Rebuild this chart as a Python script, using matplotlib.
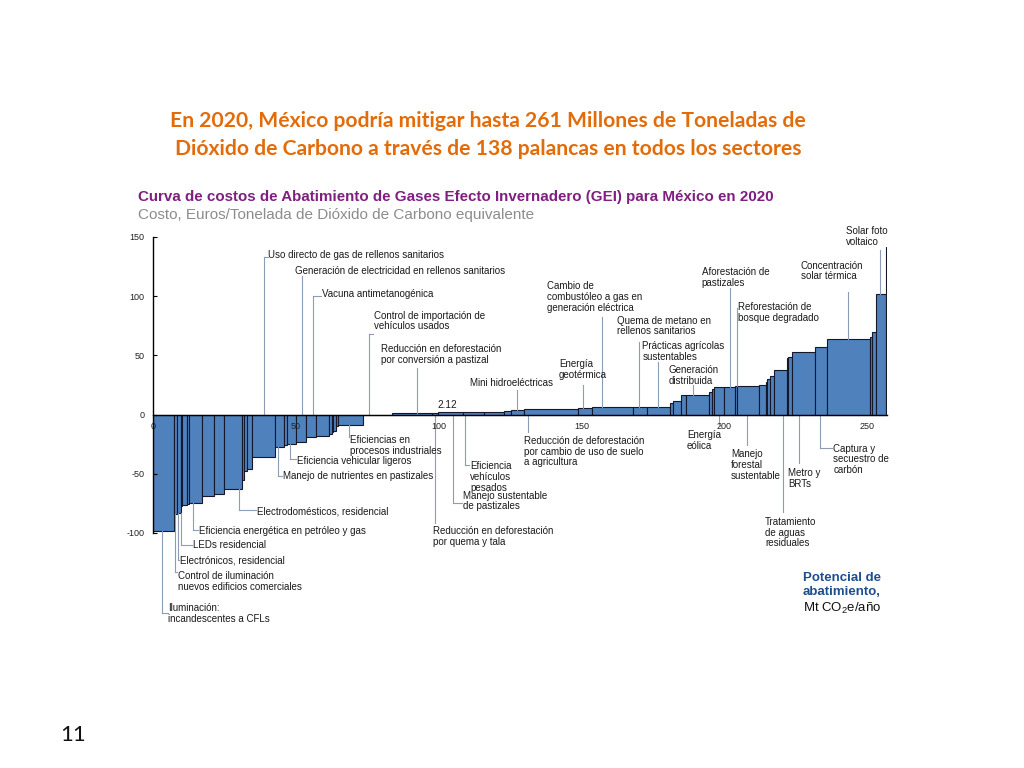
import matplotlib
matplotlib.use("Agg")
import matplotlib.pyplot as plt
import numpy as np

plt.rcParams['axes.unicode_minus'] = False

# abatement potential (Mt CO2e/año) and cost (EUR/tCO2e) of each lever, left to right
widths = [7.35, 1.15, 1.2, 0.6, 1.5, 0.8, 4.45, 4.45, 3.25, 6.3, 0.85, 0.9, 1.75, 8.15,
          3.3, 0.8, 3.15, 3.65, 3.5, 4.6, 0.9, 0.5, 1.0, 0.8, 8.7,
          10.0,
          14.0, 2.3, 8.5, 7.5, 7.0, 2.45, 4.65, 18.9, 4.7, 14.6, 4.9, 7.9, 1.2, 2.6,
          1.8, 8.2, 0.8, 0.8, 3.5, 3.9, 0.8, 7.6, 2.4, 0.5, 0.9, 1.5, 4.4, 0.5,
          1.4, 8.0, 4.3, 15.0, 0.8, 1.1, 3.5, 0.5]
costs = [-98, -84, -83, -77, -76, -75.5, -75, -69, -67, -63, -55, -48, -46, -36,
         -27, -26, -25, -23.5, -19, -18, -16, -15, -14, -10, -9,
         0,
         1.2, 1.6, 2.12, 2.3, 2.6, 3.0, 4.3, 4.7, 5.8, 6.6, 6.7, 6.8, 9.5, 11.7,
         16.5, 16.5, 19.4, 21.4, 23.6, 23.6, 24.2, 24.2, 25, 27.8, 30.1, 32.9, 37.7, 47.5,
         48.9, 53.1, 57.3, 63.6, 65.8, 70.0, 101.6, 141.8]

# labels: text, leader x, leader end y, text left x, text centre y (data units)
labels = [
    ("Uso directo de gas de rellenos sanitarios", 38.9, 133.4, 40.4, 134.8),
    ("Generación de electricidad en rellenos sanitarios", 52.1, 117.3, 49.7, 121.3),
    ("Vacuna antimetanogénica", 55.9, 100.2, 59.1, 101.9),
    ("Control de importación de\nvehículos usados", 75.6, 67.8, 77.4, 79.1),
    ("Reducción en deforestación\npor conversión a pastizal", 92.3, 39.1, 79.7, 51.0),
    ("Mini hidroeléctricas", 127.6, 20.8, 111.0, 26.4),
    ("Cambio de\ncombustóleo a gas en\ngeneración eléctrica", 157.1, 82.7, 138.1, 99.3),
    ("Energía\ngeotérmica", 150.7, 25.0, 142.2, 38.3),
    ("Quema de metano en\nrellenos sanitarios", 170.2, 61.6, 162.4, 74.9),
    ("Prácticas agrícolas\nsustentables", 176.9, 44.7, 171.3, 53.3),
    ("Generación\ndistribuida", 189.2, 25.0, 180.4, 32.7),
    ("Aforestación de\npastizales", 202.0, 106.9, 192.1, 116.0),
    ("Reforestación de\nbosque degradado", 204.4, 90.0, 204.9, 86.3),
    ("Concentración\nsolar térmica", 243.5, 103.8, 226.8, 121.3),
    ("Solar foto\nvoltaico", 254.6, 139.0, 242.5, 150.4),
    ("Eficiencias en\nprocesos industriales", 68.7, -18.7, 69.0, -26.4),
    ("Eficiencia vehicular ligeros", 48.0, -37.5, 50.3, -38.9),
    ("Manejo de nutrientes en pastizales", 43.9, -51.9, 45.4, -51.9),
    ("Electrodomésticos, residencial", 30.2, -80.6, 36.3, -82.0),
    ("Eficiencia energética en petróleo y gas", 14.1, -97.5, 16.2, -98.0),
    ("LEDs residencial", 9.7, -110.0, 14.1, -110.0),
    ("Electrónicos, residencial", 8.65, -122.8, 9.45, -123.4),
    ("Control de iluminación\nnuevos edificios comerciales", 7.8, -132.7, 8.65, -141.1),
    ("Iluminación:\nincandescentes a CFLs", 3.3, -167.3, 5.4, -167.9),
    ("Eficiencia\nvehículos\npesados", 109.2, -42.4, 111.0, -52.6),
    ("Manejo sustentable\nde pastizales", 104.9, -74.6, 108.4, -73.0),
    ("Reducción en deforestación\npor quema y tala", 98.7, -91.6, 98.1, -102.9),
    ("Reducción de deforestación\npor cambio de uso de suelo\na agricultura", 131.4, -14.4, 129.9, -31.3),
    ("Energía\neólica", 198.3, -8.8, 186.9, -21.9),
    ("Manejo\nforestal\nsustentable", 208.1, -25.7, 202.3, -42.6),
    ("Tratamiento\nde aguas\nresiduales", 220.5, -82.0, 214.3, -99.7),
    ("Metro y\nBRTs", 226.3, -41.1, 222.4, -53.7),
    ("Captura y\nsecuestro de\ncarbón", 233.5, -28.0, 238.2, -37.8),
]

yticks = [-100, -50, 0, 50, 100, 150]
xticks = [0, 50, 100, 150, 200, 250]

widths = np.array(widths)
costs = np.array(costs)
lefts = np.concatenate([[0], np.cumsum(widths)[:-1]])

def cost_at(x):
    i = np.searchsorted(lefts + widths, x)
    return costs[min(i, len(costs) - 1)]

fig = plt.figure(figsize=(10.24, 7.68), dpi=100)
ax = fig.add_axes([153/1024, 235/768, 257*2.856/1024, 296/768])

ax.bar(lefts, costs, width=widths, align='edge', color='#4F81BD',
       edgecolor='#14182a', linewidth=0.8)
ax.set_xlim(0, 257)
ax.set_ylim(-100, 150)

for s in ['top', 'right']:
    ax.spines[s].set_visible(False)
ax.spines['bottom'].set_position(('data', 0))
ax.spines['bottom'].set_linewidth(1.0)
ax.spines['left'].set_linewidth(1.0)
ax.set_yticks(yticks)
ax.set_xticks(xticks)
ax.tick_params(axis='y', direction='in', length=3, pad=6, labelsize=6.5)
ax.tick_params(axis='x', length=0, pad=5, labelsize=6.5)
for t in ax.get_xticklabels() + ax.get_yticklabels():
    t.set_family('Liberation Sans')
    t.set_color('#222222')

lead = '#8c9db5'
for txt, xl, ye, xt, yt in labels:
    c = cost_at(xl)
    ys = max(c, 0) if yt > 0 else min(c, 0)
    ax.plot([xl, xl], [ys, ye], color=lead, lw=0.8, clip_on=False, zorder=1)
    if xt > xl + 0.6:
        ax.plot([xl, xt - 0.3], [ye, ye], color=lead, lw=0.8, clip_on=False, zorder=1)
    ax.text(xt, yt, txt, ha='left', va='center', fontsize=7, color='#1a1a1a',
            family='Liberation Sans', linespacing=1.1, clip_on=False)

# value label of the 2.12 bar
i212 = int(np.where(costs == 2.12)[0][0])
ax.text(lefts[i212] + widths[i212] / 2 - 1, costs[i212] + 6, f"{costs[i212]:.2f}",
        ha='center', va='center', fontsize=7.2, family='Liberation Sans', color='#1a1a1a')

fig.text(488/1024, 1 - 135/768,
         "En 2020, México podría mitigar hasta 261 Millones de Toneladas de\n"
         "Dióxido de Carbono a través de 138 palancas en todos los sectores",
         ha='center', va='center', fontsize=15.2, fontweight='bold', color='#E36C0A',
         family='Lato', linespacing=1.55)
fig.text(138/1024, 1 - 197/768,
         "Curva de costos de Abatimiento de Gases Efecto Invernadero (GEI) para México en 2020",
         ha='left', va='center', fontsize=10.9, fontweight='bold', color='#7F1F7F',
         family='Liberation Sans')
fig.text(138/1024, 1 - 215/768,
         "Costo, Euros/Tonelada de Dióxido de Carbono equivalente",
         ha='left', va='center', fontsize=11, color='#8c8c8c', family='Liberation Sans')

fig.text(803/1024, 1 - 585/768, "Potencial de\nabatimiento,", ha='left', va='center',
         fontsize=9.5, fontweight='bold', color='#1F4E8C', family='Liberation Sans',
         linespacing=1.15)
fig.text(803/1024, 1 - 608/768, "Mt CO$_\\mathregular{2}$e/año", ha='left', va='center',
         fontsize=9.5, color='#111111', family='Liberation Sans')

fig.text(60/1024, 1 - 735/768, "11", ha='left', va='center', fontsize=16,
         color='#111111', family='Lato')

fig.savefig("out.png", dpi=100, facecolor='white')
